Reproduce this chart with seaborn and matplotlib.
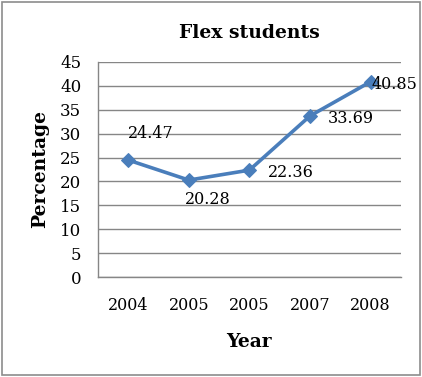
import matplotlib
matplotlib.use("Agg")
import matplotlib.pyplot as plt
from matplotlib.patches import Rectangle
import seaborn as sns
import pandas as pd

years = ["2004", "2005", "2005", "2007", "2008"]
percentages = [24.47, 20.28, 22.36, 33.69, 40.85]
y_ticks = [0, 5, 10, 15, 20, 25, 30, 35, 40, 45]
# label offsets in points (dx, dy, horizontal alignment)
label_offsets = [(16, 19, "center"), (14, -14, "center"), (13, -2, "left"), (13, -2, "left"), (1, -2, "left")]

df = pd.DataFrame({"pos": range(len(years)), "Percentage": percentages})

sns.set_style("white")
plt.rcParams["font.family"] = ["DejaVu Serif"]
plt.rcParams["text.color"] = "black"
plt.rcParams["axes.labelcolor"] = "black"
plt.rcParams["xtick.color"] = "black"
plt.rcParams["ytick.color"] = "black"

fig = plt.figure(figsize=(4.22, 3.77), dpi=100)
ax = fig.add_axes([0.232, 0.265, 0.718, 0.571])

sns.lineplot(data=df, x="pos", y="Percentage", ax=ax, color="#4A7EBB",
             linewidth=2.6, marker="D", markersize=7.5, markeredgecolor="#4A7EBB")

ax.set_xlim(-0.5, len(years) - 0.5)
ax.set_ylim(0, 45)
ax.set_yticks(y_ticks)
ax.set_xticks(range(len(years)))
ax.set_xticklabels(years, fontsize=11.5)
ax.set_xticks([i - 0.5 for i in range(len(years) + 1)], minor=True)
ax.tick_params(axis="x", which="major", length=0, pad=14, labelcolor="black")
ax.tick_params(axis="x", which="minor", length=4, color="#868686", width=1)
ax.tick_params(axis="y", length=4, color="#868686", width=1, labelsize=12, pad=8, labelcolor="black")
ax.yaxis.grid(True, color="#868686", linewidth=1)
ax.set_axisbelow(True)

for side in ["top", "right"]:
    ax.spines[side].set_visible(False)
for side in ["left", "bottom"]:
    ax.spines[side].set_color("#868686")
    ax.spines[side].set_linewidth(1)

for i, v in enumerate(percentages):
    dx, dy, ha = label_offsets[i]
    ax.annotate(f"{v:.2f}", (i, v), xytext=(dx, dy), textcoords="offset points",
                ha=ha, va="center", fontsize=11.5, color="black")

ax.set_title("Flex students", fontsize=13.5, fontweight="bold", pad=17, color="black")
ax.set_xlabel("Year", fontsize=13.5, fontweight="bold", labelpad=14)
ax.set_ylabel("Percentage", fontsize=13.5, fontweight="bold", labelpad=8)

fig.patches.append(Rectangle((0.004, 0.004), 0.991, 0.991, transform=fig.transFigure,
                             fill=False, edgecolor="#8C8C8C", linewidth=1.2))

plt.savefig("out.png", dpi=100)
plt.close()
